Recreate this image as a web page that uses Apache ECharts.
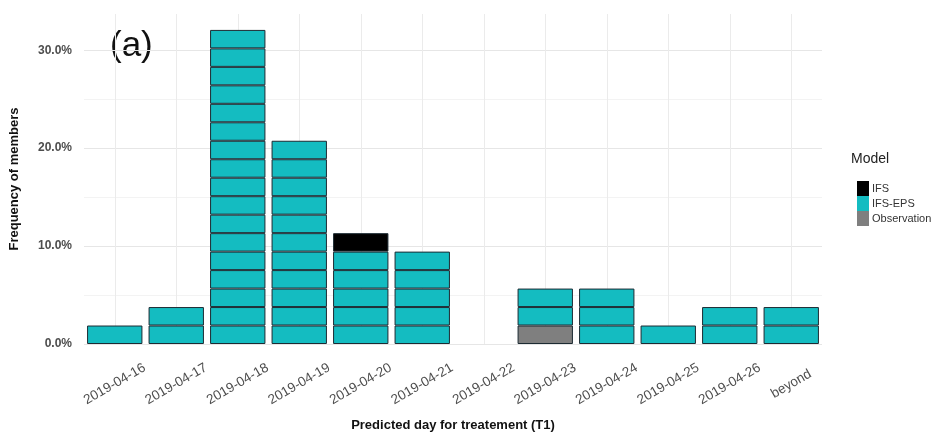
<!DOCTYPE html>
<html>
<head>
<meta charset="utf-8">
<script src="https://cdn.jsdelivr.net/npm/echarts@6/dist/echarts.min.js"></script>
<style>
  html, body { margin: 0; padding: 0; background: #fff; }
  #freq_bar { width: 946px; height: 437px; }
</style>
</head>
<body>
<div id="freq_bar"></div>
<script>
// predicted days and number of members per model
var days = ['2019-04-16','2019-04-17','2019-04-18','2019-04-19','2019-04-20','2019-04-21',
            '2019-04-22','2019-04-23','2019-04-24','2019-04-25','2019-04-26','beyond'];
var obsCounts = [0,0,0,0,0,0,0,1,0,0,0,0];
var epsCounts = [1,2,17,11,5,5,0,2,3,1,2,2];
var ifsCounts = [0,0,0,0,1,0,0,0,0,0,0,0];
var nMembers = 53;
var yTicks = [0,10,20,30];

var unit = 100 / nMembers;
var colors = { 'Observation': '#7f7f7f', 'IFS-EPS': '#14bcc1', 'IFS': '#000000' };

// one stacked layer per member so every member gets its own outlined box
function layers(name, counts) {
  var out = [];
  var max = Math.max.apply(null, counts);
  for (var k = 0; k < max; k++) {
    out.push({
      name: name,
      type: 'bar',
      stack: 'members',
      barCategoryGap: '10%',
      itemStyle: { color: colors[name], borderColor: '#1d2b33', borderWidth: 1 },
      data: counts.map(function (c) { return c > k ? unit : '-'; })
    });
  }
  return out;
}

var series = [].concat(layers('Observation', obsCounts), layers('IFS-EPS', epsCounts), layers('IFS', ifsCounts));

var freq_bar = echarts.init(document.getElementById('freq_bar'));
var freq_option = {
  animation: false,
  textStyle: { fontFamily: 'Liberation Sans' },
  grid: { left: 84, right: 124, top: 14, bottom: 93 },
  legend: {
    data: ['IFS', 'IFS-EPS', 'Observation'],
    orient: 'vertical',
    left: 852,
    top: 176,
    itemWidth: 12,
    itemHeight: 15,
    itemGap: 0,
    icon: 'rect',
    itemStyle: { borderWidth: 0 },
    textStyle: { fontSize: 11, color: '#333', padding: [0, 0, 0, -2] }
  },
  graphic: [
    { type: 'text', left: 851, top: 152, style: { text: 'Model', fontSize: 14, fill: '#222', fontFamily: 'Liberation Sans' } },
    { type: 'text', left: 110, top: 29, style: { text: '(a)', fontSize: 35, fill: '#111', fontFamily: 'Liberation Sans' } }
  ],
  xAxis: {
    type: 'category',
    data: days,
    name: 'Predicted day for treatement (T1)',
    nameLocation: 'middle',
    nameGap: 75,
    nameTextStyle: { fontSize: 13, fontWeight: 'bold', color: '#111' },
    axisLine: { show: false },
    axisTick: { show: false },
    axisLabel: {
      rotate: 30, align: 'center', verticalAlign: 'middle', margin: 40,
      fontSize: 13.5, color: '#4d4d4d', interval: 0
    },
    splitLine: { show: true, alignWithLabel: true, interval: 0, lineStyle: { color: '#ebebeb', width: 1 } }
  },
  yAxis: {
    type: 'value',
    min: 0,
    max: 33.7,
    interval: 10,
    name: 'Frequency of members',
    nameLocation: 'middle',
    nameGap: 63,
    nameTextStyle: { fontSize: 13, fontWeight: 'bold', color: '#111' },
    axisLabel: {
      fontSize: 12, fontWeight: 'bold', color: '#4d4d4d', margin: 12, showMaxLabel: false,
      formatter: function (v) { return yTicks.indexOf(v) >= 0 ? v.toFixed(1) + '%' : ''; }
    },
    splitLine: { show: true, showMaxLine: false, lineStyle: { color: '#e6e6e6', width: 1 } },
    minorTick: { show: false, splitNumber: 2 },
    minorSplitLine: { show: true, lineStyle: { color: '#f3f3f3', width: 1 } }
  },
  series: series
};
freq_bar.setOption(freq_option);
</script>
</body>
</html>
